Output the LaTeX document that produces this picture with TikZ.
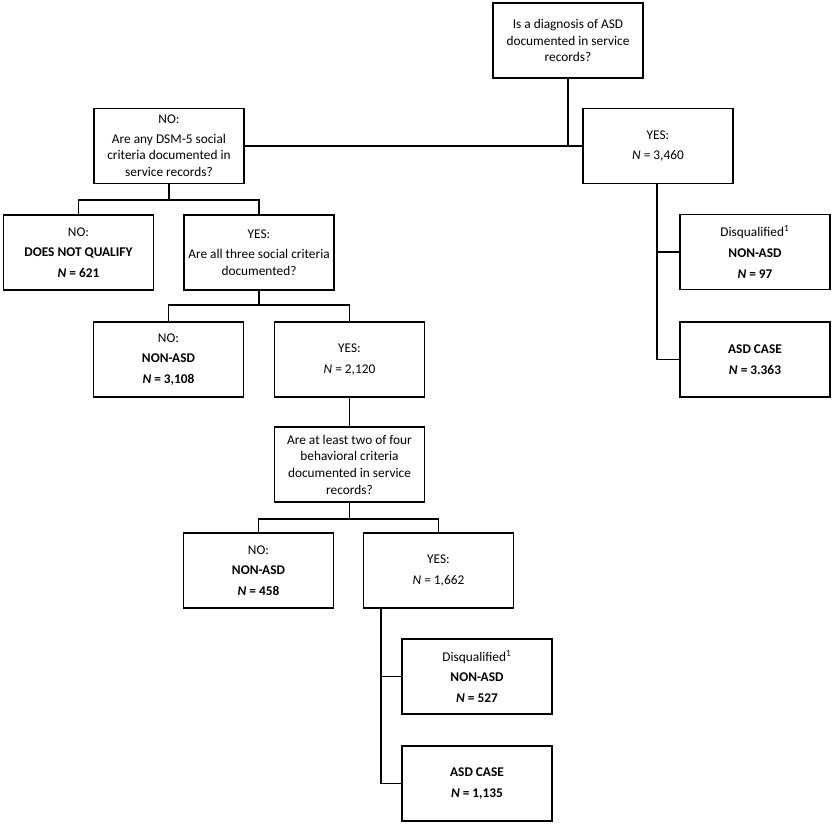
\documentclass[tikz,border=0pt]{standalone}
\usepackage{fontspec}
\setmainfont{Carlito}
\usetikzlibrary{positioning}

\begin{document}
\begin{tikzpicture}[x=0.75pt,y=-0.75pt,
  box/.style={draw,line width=1.3pt,minimum width=112.5pt,minimum height=56.25pt,inner sep=2pt,align=center,font=\fontsize{10}{12.5}\selectfont},
  link/.style={line width=1.3pt}]
  \useasboundingbox (0,0) rectangle (833,824);
  % Diagnosis question
  \node[box] (diag) at (568,40.5) {Is a diagnosis of ASD\\documented in service\\records?};
  \node[box] (soc) at (169,146) {NO:\\[2pt]Are any DSM-5 social\\criteria documented in\\service records?};
  \node[box] (dxyes) at (658,146) {YES:\\[3pt]\textit{N} = 3,460};
  \draw[link] (diag.south) -- (diag.south |- soc.east);
  \draw[link] (soc.east) -- (dxyes.west);
  % Diagnosis documented
  \node[box] (dxdq) at (755,252) {Disqualified\textsuperscript{1}\\[3pt]\textbf{NON-ASD}\\[3pt]\textbf{\textit{N} = 97}};
  \node[box] (dxcase) at (755,359.5) {\textbf{ASD CASE}\\[3pt]\textbf{\textit{N} = 3.363}};
  \coordinate (rail1) at (657,183.5);
  \draw[link] (rail1) |- (dxcase.west);
  \draw[link] (rail1 |- dxdq.west) -- (dxdq.west);
  % Social criteria
  \node[box] (nq) at (78.5,252.5) {NO:\\[3pt]\textbf{DOES NOT QUALIFY}\\[3pt]\textbf{\textit{N} = 621}};
  \node[box] (three) at (259,252.5) {YES:\\[3pt]Are all three social criteria\\documented?};
  \coordinate (j1) at (169,200);
  \draw[link] (soc.south) -- (j1);
  \draw[link] (nq.north) |- (j1) -| (three.north);
  % All three social criteria
  \node[box] (socno) at (168.5,359.5) {NO:\\[3pt]\textbf{NON-ASD}\\[3pt]\textbf{\textit{N} = 3,108}};
  \node[box] (socyes) at (349.5,359.5) {YES:\\[3pt]\textit{N} = 2,120};
  \coordinate (j2) at (259,305);
  \draw[link] (three.south) -- (j2);
  \draw[link] (socno.north) |- (j2) -| (socyes.north);
  % Behavioral criteria
  \node[box] (beh) at (349.5,464.5) {Are at least two of four\\behavioral criteria\\documented in service\\records?};
  \draw[link] (socyes.south) -- (beh.north);
  \node[box] (behno) at (258.5,570.5) {NO:\\[3pt]\textbf{NON-ASD}\\[3pt]\textbf{\textit{N} = 458}};
  \node[box] (behyes) at (438.5,570.5) {YES:\\[3pt]\textit{N} = 1,662};
  \coordinate (j3) at (349.5,519);
  \draw[link] (beh.south) -- (j3);
  \draw[link] (behno.north) |- (j3) -| (behyes.north);
  % Behavioral criteria met
  \node[box] (behdq) at (477,676.5) {Disqualified\textsuperscript{1}\\[3pt]\textbf{NON-ASD}\\[3pt]\textbf{\textit{N} = 527}};
  \node[box] (behcase) at (477,783.5) {\textbf{ASD CASE}\\[3pt]\textbf{\textit{N} = 1,135}};
  \coordinate (rail2) at (381,608);
  \draw[link] (rail2) |- (behcase.west);
  \draw[link] (rail2 |- behdq.west) -- (behdq.west);
\end{tikzpicture}
\end{document}
